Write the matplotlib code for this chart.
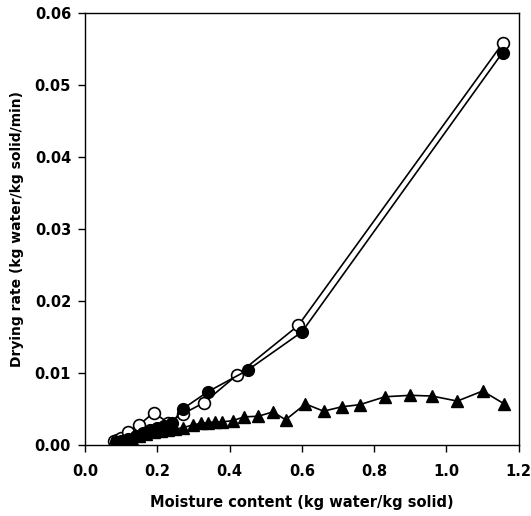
import matplotlib
matplotlib.use("Agg")
import matplotlib.pyplot as plt
from matplotlib.ticker import FormatStrFormatter

plt.rcParams['font.family'] = ['DejaVu Sans']
plt.rcParams['font.weight'] = 'bold'

# Filled circles series
filled_x = [0.085, 0.10, 0.12, 0.14, 0.16, 0.18, 0.20, 0.22, 0.24, 0.27, 0.34, 0.45, 0.60, 1.155]
filled_y = [0.0004, 0.0006, 0.0009, 0.0013, 0.0017, 0.0021, 0.0024, 0.0026, 0.0030, 0.0050, 0.0074, 0.0104, 0.0157, 0.0545]

# Open circles series
open_x = [0.08, 0.09, 0.10, 0.12, 0.15, 0.19, 0.23, 0.27, 0.33, 0.42, 0.59, 1.157]
open_y = [0.0005, 0.0007, 0.0010, 0.0018, 0.0028, 0.0045, 0.0031, 0.0043, 0.0059, 0.0097, 0.0166, 0.0559]

# Triangles series
tri_x = [0.09, 0.11, 0.13, 0.15, 0.17, 0.19, 0.21, 0.23, 0.25, 0.27, 0.30, 0.32, 0.34, 0.36,
         0.38, 0.41, 0.44, 0.48, 0.52, 0.555, 0.61, 0.66, 0.71, 0.76, 0.83, 0.90, 0.96, 1.03, 1.10, 1.16]
tri_y = [0.0003, 0.0006, 0.0009, 0.0012, 0.0015, 0.0018, 0.0020, 0.0021, 0.0022, 0.0024, 0.0028,
         0.0030, 0.0031, 0.0032, 0.0032, 0.0034, 0.0039, 0.0040, 0.0046, 0.0035, 0.0057, 0.0047,
         0.0053, 0.0056, 0.0067, 0.0069, 0.0068, 0.0061, 0.0075, 0.0057]

x_ticks = [0.0, 0.2, 0.4, 0.6, 0.8, 1.0, 1.2]
y_ticks = [0.00, 0.01, 0.02, 0.03, 0.04, 0.05, 0.06]

fig = plt.figure(figsize=(5.31, 5.16), dpi=100)
ax = fig.add_axes([0.160, 0.1376, 0.817, 0.8372])

ax.plot(open_x, open_y, color='black', lw=1.2, marker='o', markersize=8.5,
        markerfacecolor='white', markeredgecolor='black', markeredgewidth=1.2, zorder=3)
ax.plot(filled_x, filled_y, color='black', lw=1.2, marker='o', markersize=8.5,
        markerfacecolor='black', markeredgecolor='black', zorder=4)
ax.plot(tri_x, tri_y, color='black', lw=1.2, marker='^', markersize=8,
        markerfacecolor='black', markeredgecolor='black', zorder=5)

ax.set_xlim(0, 1.2)
ax.set_ylim(0, 0.06)
ax.set_xticks(x_ticks)
ax.set_yticks(y_ticks)
ax.xaxis.set_major_formatter(FormatStrFormatter('%.1f'))
ax.yaxis.set_major_formatter(FormatStrFormatter('%.2f'))
ax.tick_params(direction='out', length=5, width=1, labelsize=10.5, pad=5)
ax.tick_params(axis='x', pad=9)
for lab in ax.get_xticklabels() + ax.get_yticklabels():
    lab.set_fontweight('bold')
for s in ax.spines.values():
    s.set_linewidth(1.0)

ax.set_xlabel('Moisture content (kg water/kg solid)', fontsize=10.5, fontweight='bold', labelpad=11)
ax.set_ylabel('Drying rate (kg water/kg solid/min)', fontsize=10, fontweight='bold', labelpad=8)

fig.savefig('out.png', dpi=100)
